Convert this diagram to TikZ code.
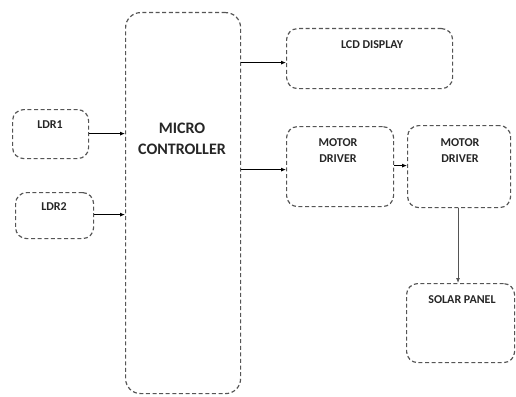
\documentclass[tikz,border=0pt]{standalone}
\usepackage{fontspec}
\setmainfont{Carlito}
\usetikzlibrary{arrows.meta,calc}
\definecolor{boxgray}{HTML}{555555}
\tikzset{
  blk/.style={draw=boxgray, line width=1.2pt, dash pattern=on 4pt off 2.6pt,
    rounded corners=11pt, inner sep=0pt, anchor=north west},
  lbl/.style={font=\bfseries\fontsize{12}{14}\selectfont, text=black!85, anchor=center, align=center},
  mdlbl/.style={lbl, font=\bfseries\fontsize{12}{16}\selectfont},
  biglbl/.style={font=\bfseries\fontsize{16}{21}\selectfont, text=black!85, align=center},
  arr/.style={-{Latex[length=5pt,width=4pt]}, line width=0.8pt, black}
}
\begin{document}
\begin{tikzpicture}[x=1pt,y=-1pt]
\useasboundingbox (0,0) rectangle (516,396);
% boxes
\node[blk, minimum width=76pt, minimum height=49pt] (ldr1) at (12,109) {};
\node[blk, minimum width=78pt, minimum height=46pt] (ldr2) at (15,192) {};
\node[blk, minimum width=115pt, minimum height=381pt, rounded corners=15pt] (mc) at (125,12) {};
\node[blk, minimum width=166pt, minimum height=60pt] (lcd) at (286,28) {};
\node[blk, minimum width=107pt, minimum height=80pt] (md1) at (286,126) {};
\node[blk, minimum width=103pt, minimum height=82pt] (md2) at (407,125) {};
\node[blk, minimum width=108pt, minimum height=79pt] (sp) at (406,283) {};
% labels
\node[lbl] (tldr1) at (50,125) {LDR1};
\node[lbl] (tldr2) at (54,207) {LDR2};
\node[biglbl] (tmc) at (182,139) {MICRO\\CONTROLLER};
\node[lbl] (tlcd) at (372,45) {LCD DISPLAY};
\node[mdlbl] (tmd1) at (338,151) {MOTOR\\DRIVER};
\node[mdlbl] (tmd2) at (460,151) {MOTOR\\DRIVER};
\node[lbl] (tsp) at (462,300) {SOLAR PANEL};
% connectors
\draw[arr] ($(ldr1.east)+(0,-0.5)$) -- ($(ldr1.east -| mc.west)+(0,-0.5)$);
\draw[arr] ($(ldr2.east)+(0,-1)$) -- ($(ldr2.east -| mc.west)+(0,-1)$);
\draw[arr] ($(lcd.west -| mc.east)+(0,4)$) -- ($(lcd.west)+(0,4)$);
\draw[arr] ($(md1.west -| mc.east)+(0,3)$) -- ($(md1.west)+(0,3)$);
\draw[arr] ($(md1.east)+(0,-1)$) -- ($(md1.east -| md2.west)+(0,-1)$);
\draw[arr, draw=boxgray] (md2.south -| 458,0) -- (sp.north -| 458,0);
\end{tikzpicture}
\end{document}
